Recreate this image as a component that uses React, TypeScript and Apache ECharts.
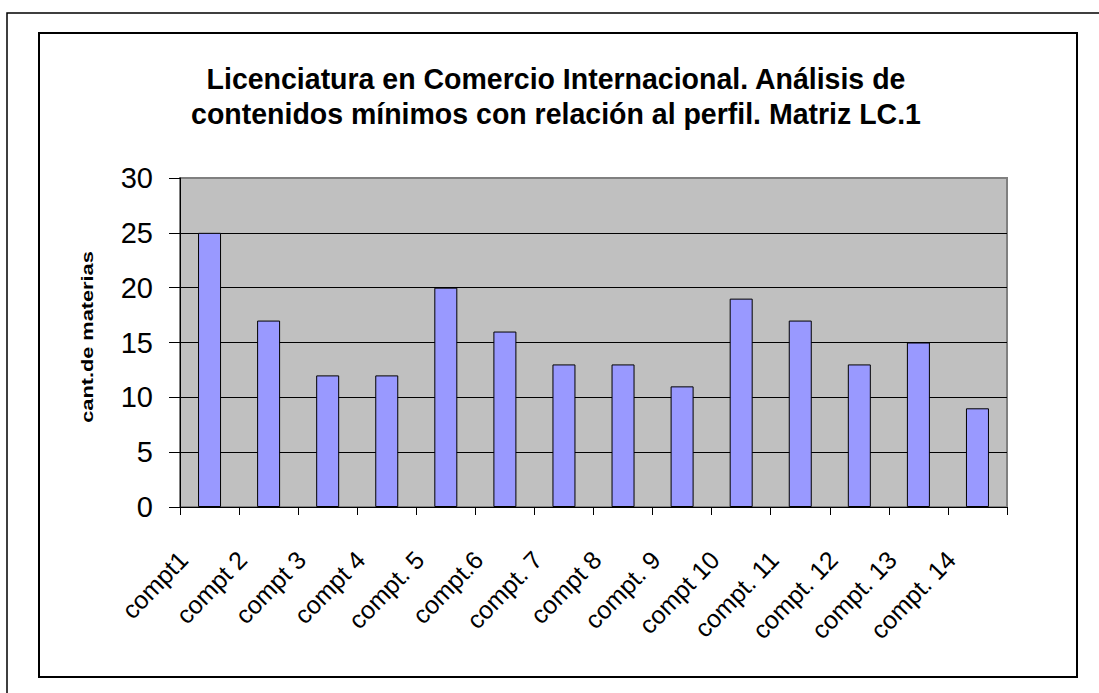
import React, { useEffect, useRef } from "react";
import * as echarts from "echarts";

const titleLines = [
  "Licenciatura en Comercio Internacional. Análisis de",
  "contenidos mínimos con relación al perfil. Matriz LC.1",
];
const yAxisName = "cant.de materias";
const categories = [
  "compt1",
  "compt 2",
  "compt 3",
  "compt 4",
  "compt. 5",
  "compt.6",
  "compt. 7",
  "compt 8",
  "compt. 9",
  "compt 10",
  "compt. 11",
  "compt. 12",
  "compt. 13",
  "compt. 14",
];
const values = [25, 17, 12, 12, 20, 16, 13, 13, 11, 19, 17, 13, 15, 9];
const yMin = 0;
const yMax = 30;
const yStep = 5;

const FONT = '"Liberation Sans", Arial, Helvetica, sans-serif';

export default function App() {
  const ref = useRef<HTMLDivElement>(null);

  useEffect(() => {
    if (!ref.current) return;
    const chart = echarts.init(ref.current, null, { renderer: "svg" });
    chart.setOption({
      animation: false,
      backgroundColor: "#ffffff",
      grid: {
        left: 180,
        right: 92,
        top: 178,
        bottom: 186,
        show: true,
        backgroundColor: "#C0C0C0",
        borderColor: "#808080",
        borderWidth: 2,
      },
      xAxis: {
        type: "category",
        data: categories,
        boundaryGap: true,
        axisLine: { show: true, lineStyle: { color: "#000", width: 1 } },
        axisTick: { show: true, length: 8, lineStyle: { color: "#000" } },
        axisLabel: {
          interval: 0,
          rotate: 46,
          margin: 21,
          padding: [0, 38, 0, 0],
          fontFamily: FONT,
          fontSize: 25,
          color: "#000",
        },
        splitLine: { show: false },
      },
      yAxis: {
        type: "value",
        min: yMin,
        max: yMax,
        interval: yStep,
        axisLine: { show: true, lineStyle: { color: "#000", width: 1 } },
        axisTick: { show: true, length: 11, lineStyle: { color: "#000" } },
        axisLabel: {
          margin: 27,
          fontFamily: FONT,
          fontSize: 29,
          color: "#000",
        },
        splitLine: {
          show: true,
          showMaxLine: false,
          lineStyle: { color: "#000", width: 1 },
        },
      },
      series: [
        {
          type: "bar",
          data: values,
          barWidth: 23,
          itemStyle: { color: "#9999FF", borderColor: "#000", borderWidth: 1 },
        },
      ],
      graphic: [
        {
          type: "rect",
          shape: { x: 7, y: 13, width: 1200, height: 800 },
          style: { fill: "none", stroke: "#000", lineWidth: 1.5 },
          silent: true,
        },
        {
          type: "rect",
          shape: { x: 39, y: 33, width: 1038, height: 644 },
          style: { fill: "none", stroke: "#000", lineWidth: 2 },
          silent: true,
        },
        {
          type: "text",
          x: 556,
          y: 78.5,
          scaleY: 1.03,
          style: {
            text: titleLines[0],
            font: `bold 28.5px ${FONT}`,
            textAlign: "center",
            textVerticalAlign: "middle",
            fill: "#000",
          },
        },
        {
          type: "text",
          x: 556,
          y: 113.5,
          scaleY: 1.03,
          style: {
            text: titleLines[1],
            font: `bold 28.5px ${FONT}`,
            textAlign: "center",
            textVerticalAlign: "middle",
            fill: "#000",
          },
        },
        {
          type: "text",
          x: 87.5,
          y: 337,
          rotation: Math.PI / 2,
          scaleX: 1.36,
          style: {
            text: yAxisName,
            font: `bold 16px ${FONT}`,
            textAlign: "center",
            textVerticalAlign: "middle",
            fill: "#000",
          },
        },
      ],
    });
    return () => chart.dispose();
  }, []);

  return (
    <div
      ref={ref}
      style={{ position: "absolute", left: 0, top: 0, width: 1099, height: 693 }}
    />
  );
}
